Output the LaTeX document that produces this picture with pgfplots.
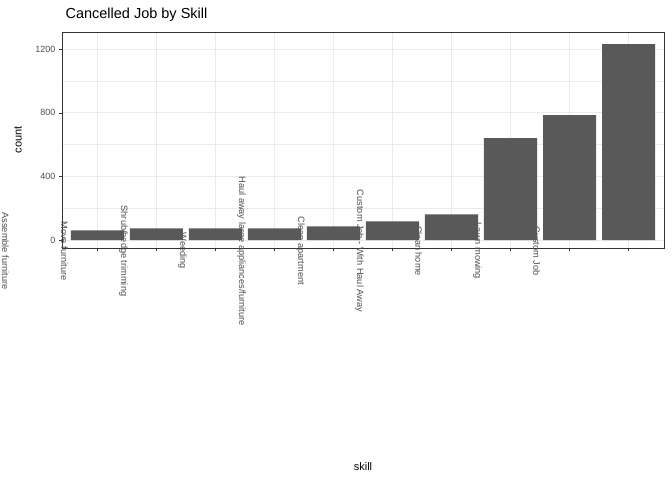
\documentclass[border=0pt]{standalone}
\usepackage{pgfplots}
\pgfplotsset{compat=1.18}
\usepackage{fontspec}
\setmainfont{Liberation Sans}
\definecolor{barc}{HTML}{595959}
\definecolor{gridc}{HTML}{EBEBEB}
\definecolor{tickc}{HTML}{4D4D4D}
\begin{document}
\begin{tikzpicture}[x=1pt,y=1pt]
\useasboundingbox (-62,-232) rectangle (610,248);
\begin{axis}[at={(0,0)},anchor=south west,
 scale only axis, width=602pt, height=216pt,
 xmin=0.4, xmax=10.6, ymin=-50, ymax=1308,
 ytick={0,400,800,1200}, minor ytick={200,600,1000},
 yticklabel style={/pgf/number format/1000 sep={}},
 xtick={1,...,10},
 xticklabels={Assemble furniture,Move furniture,Shrub/hedge trimming,Weeding,Haul away large appliances/furniture,Clean apartment,Custom Job - With Haul Away,Clean home,Lawn mowing,Custom Job},
 x tick label style={rotate=-90,anchor=center,font=\fontsize{9.2}{10}\selectfont,text=tickc,yshift=-92pt},
 y tick label style={font=\fontsize{9}{10}\selectfont,text=tickc},
 /pgf/number format/assume math mode=true,
 grid=both, major grid style={gridc,line width=0.7pt}, minor grid style={gridc,line width=0.4pt},
 axis line style={draw=black!80,line width=0.6pt},
 tick style={black!80,line width=0.5pt}, major tick length=3pt, minor tick length=0pt,
 tick align=outside, xtick pos=bottom, ytick pos=left,
 title={Cancelled Job by Skill},
 title style={at={(axis description cs:0,1)},anchor=south west,font=\fontsize{14.5}{16}\selectfont,yshift=1pt}]
\addplot[ybar, bar width=0.9, fill=barc, draw=none, bar shift=0] coordinates {
(1,61) (2,74) (3,74) (4,74) (5,86) (6,118) (7,162) (8,641) (9,786) (10,1232)};
\end{axis}
\node[rotate=90,font=\fontsize{11}{12}\selectfont] at (-44,108) {count};
\node[font=\fontsize{11}{12}\selectfont] at (301,-219) {skill};
\end{tikzpicture}
\end{document}
